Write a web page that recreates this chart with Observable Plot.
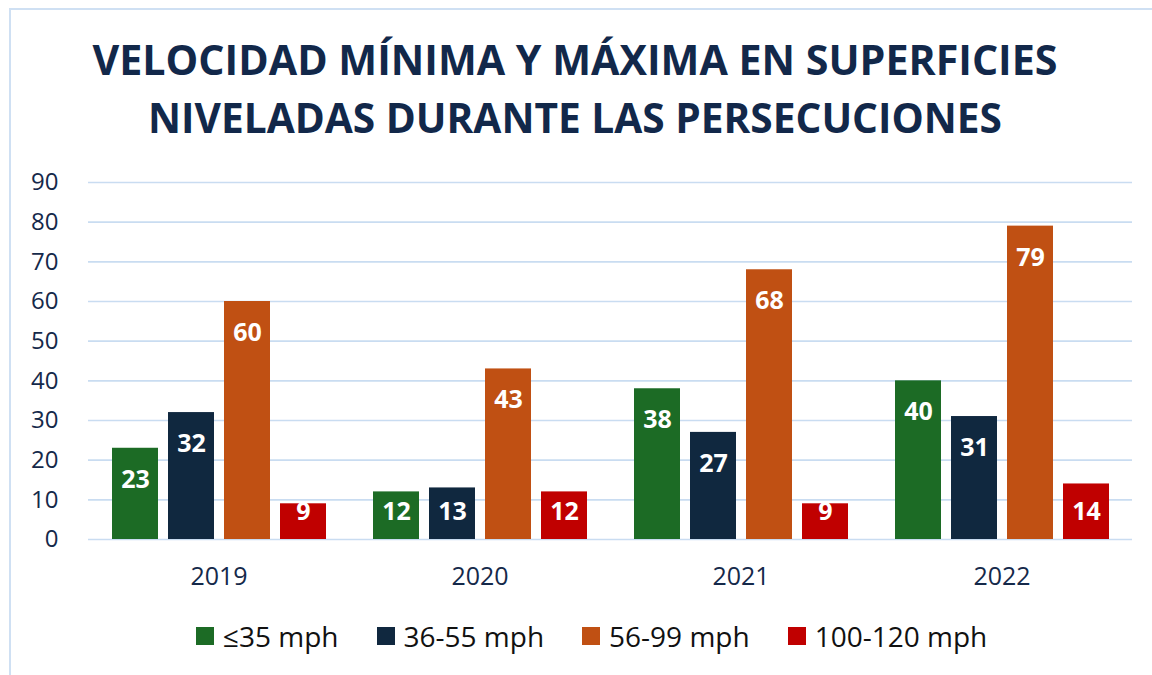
<!DOCTYPE html>
<html><head><meta charset="utf-8">
<script src="https://cdn.jsdelivr.net/npm/d3@7"></script>
<script src="https://cdn.jsdelivr.net/npm/@observablehq/plot@0.6"></script>
<style>
html,body{margin:0;padding:0;background:#fff;width:1152px;height:675px;overflow:hidden;position:relative;font-family:"Open Sans",sans-serif}
#frame{position:absolute;left:9px;top:8px;width:1200px;height:720px;border:2px solid #cfe0f3;box-sizing:border-box}
#title{position:absolute;left:0;top:0}
#title text{font-family:"Open Sans",sans-serif;font-weight:700;font-size:42px;fill:#12284a}
#chart{position:absolute;left:0;top:150px}
#legend{position:absolute;left:196px;top:622px;height:28px;display:flex;align-items:center;font-size:28px;line-height:28px;color:#111}
.item{display:flex;align-items:center;margin-right:38px}
.sw{width:18px;height:18px;margin-right:9px}
</style></head><body>
<div id="frame"></div>
<svg id="title" width="1152" height="150">
  <text x="575" y="75" text-anchor="middle" textLength="965" lengthAdjust="spacingAndGlyphs">VELOCIDAD MÍNIMA Y MÁXIMA EN SUPERFICIES</text>
  <text x="575" y="133" text-anchor="middle" textLength="854" lengthAdjust="spacingAndGlyphs">NIVELADAS DURANTE LAS PERSECUCIONES</text>
</svg>
<div id="chart"></div>
<div id="legend"></div>
<script>
const years = ["2019", "2020", "2021", "2022"];
const series = ["≤35 mph", "36-55 mph", "56-99 mph", "100-120 mph"];
const v35 = [23, 12, 38, 40];
const v55 = [32, 13, 27, 31];
const v99 = [60, 43, 68, 79];
const v120 = [9, 12, 9, 14];
const colors = ["#1c6b25", "#10283f", "#c05013", "#c00000"];
const yTicks = [0, 10, 20, 30, 40, 50, 60, 70, 80, 90];

const valuesBySeries = [v35, v55, v99, v120];
const data = [];
years.forEach((yr, i) => series.forEach((s, j) => data.push({year: yr, series: s, value: valuesBySeries[j][i]})));

const labelStyle = {fx: "year", x: "series", text: "value", fill: "white", fontWeight: "bold", fontSize: 25};

const chart = Plot.plot({
  width: 1152, height: 450,
  marginLeft: 86, marginRight: 19, marginTop: 32, marginBottom: 61,
  style: {fontFamily: "Open Sans", color: "#15294a", background: "transparent"},
  fx: {domain: years, padding: 0, label: null},
  x: {domain: series, paddingInner: 0.186, paddingOuter: 0.41, axis: null},
  y: {domain: [0, 90], label: null},
  color: {domain: series, range: colors},
  marks: [
    Plot.gridY(yTicks, {stroke: "#c9dcf1", strokeOpacity: 1, strokeWidth: 1.6}),
    Plot.axisY(yTicks, {tickSize: 0, tickPadding: 30, fontSize: 24, fill: "#15294a", label: null}),
    Plot.axisFx({anchor: "bottom", tickSize: 0, tickPadding: 28, fontSize: 25, fill: "#15294a", label: null}),
    Plot.barY(data, {fx: "year", x: "series", y: "value", fill: "series"}),
    Plot.text(data.filter(d => d.value > 15), {...labelStyle, y: "value", dy: 31.5}),
    Plot.text(data.filter(d => d.value <= 15), {...labelStyle, y: () => 0, dy: -28})
  ]
});
document.getElementById("chart").appendChild(chart);

const legend = document.getElementById("legend");
series.forEach((s, i) => {
  const it = document.createElement("div");
  it.className = "item";
  const sw = document.createElement("span");
  sw.className = "sw";
  sw.style.background = colors[i];
  const t = document.createElement("span");
  t.textContent = s;
  it.appendChild(sw); it.appendChild(t);
  legend.appendChild(it);
});
</script>
</body></html>
